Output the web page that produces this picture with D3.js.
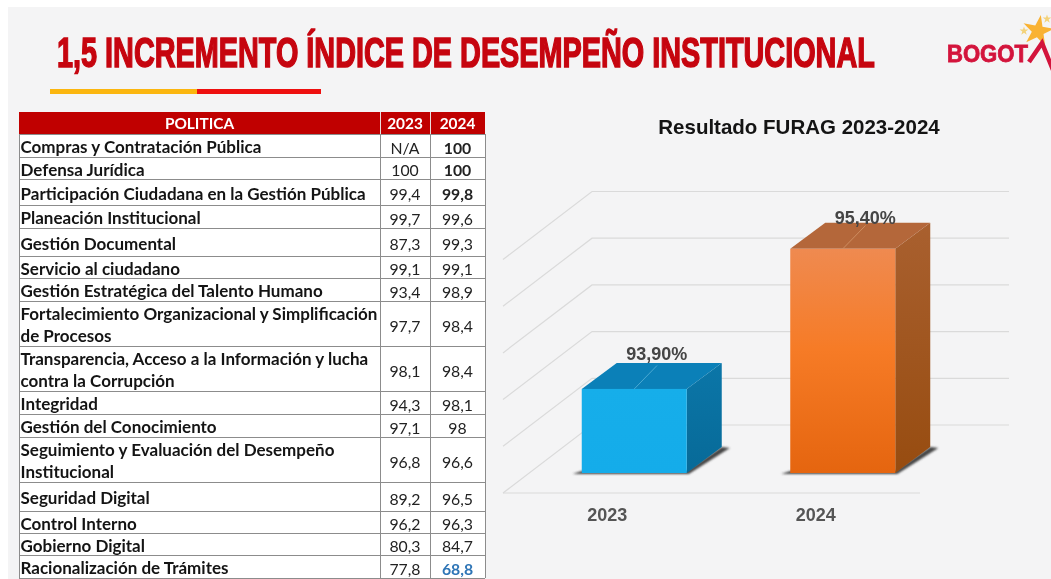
<!DOCTYPE html>
<html>
<head>
<meta charset="utf-8">
<script src="https://cdn.jsdelivr.net/npm/d3@7"></script>
<style>
  html, body { margin: 0; padding: 0; background: #fff; overflow: hidden; }
  svg { display: block; filter: blur(0.4px); }
</style>
</head>
<body>
<div id="chart"></div>
<script>
// table data
const policies = [
  "Compras y Contratación Pública",
  "Defensa Jurídica",
  "Participación Ciudadana en la Gestión Pública",
  "Planeación Institucional",
  "Gestión Documental",
  "Servicio al ciudadano",
  "Gestión Estratégica del Talento Humano",
  "Fortalecimiento Organizacional y Simplificación\nde Procesos",
  "Transparencia, Acceso a la Información y lucha\ncontra la Corrupción",
  "Integridad",
  "Gestión del Conocimiento",
  "Seguimiento y Evaluación del Desempeño\nInstitucional",
  "Seguridad Digital",
  "Control Interno",
  "Gobierno Digital",
  "Racionalización de Trámites",
];
const values2023 = [null, 100, 99.4, 99.7, 87.3, 99.1, 93.4, 97.7, 98.1, 94.3, 97.1, 96.8, 89.2, 96.2, 80.3, 77.8];
const values2024 = [100, 100, 99.8, 99.6, 99.3, 99.1, 98.9, 98.4, 98.4, 98.1, 98, 96.6, 96.5, 96.3, 84.7, 68.8];
const boldRows2024 = ["Compras y Contratación Pública", "Defensa Jurídica", "Participación Ciudadana en la Gestión Pública"];

// chart data
const furagYears = ["2023", "2024"];
const furagValues = [93.9, 95.4];

const width = 1051, height = 579;
const tableFont = "Lato, Carlito, 'Noto Sans', sans-serif";
const chartFont = "'Liberation Sans', Arial, sans-serif";

const svg = d3.select("#chart").append("svg").attr("width", width).attr("height", height);
const defs = svg.append("defs");

svg.append("rect").attr("x", 8).attr("y", 7).attr("width", width - 8).attr("height", height - 7).attr("fill", "#f4f4f5");

// squeeze a text horizontally so that it fills a given width
function fitWidth(sel, x, y, w) {
  const natural = sel.node().getComputedTextLength();
  sel.attr("transform", `translate(${x},${y}) scale(${w / natural},1)`);
}

// ---- header
svg.append("text")
  .attr("font-family", chartFont)
  .attr("font-weight", 700).attr("font-size", 42)
  .attr("fill", "#c6050f").attr("stroke", "#c6050f").attr("stroke-width", 1.5)
  .text("1,5 INCREMENTO ÍNDICE DE DESEMPEÑO INSTITUCIONAL")
  .call(fitWidth, 57, 67, 818);

svg.append("rect").attr("x", 50).attr("y", 89).attr("width", 147).attr("height", 5).attr("fill", "#fbb60f");
svg.append("rect").attr("x", 197).attr("y", 89).attr("width", 124).attr("height", 5).attr("fill", "#ee0f0f");

// logo
svg.append("path")
  .attr("d", d3.symbol().type(d3.symbolStar).size(300))
  .attr("transform", "translate(1038,31) rotate(10)")
  .attr("fill", "#f9b233");
[[1024, 31, 24], [1047, 19, 24]].forEach(([x, y, s]) => {
  svg.append("path").attr("d", d3.symbol().type(d3.symbolStar).size(s))
    .attr("transform", `translate(${x},${y})`).attr("fill", "#f3d27a");
});
svg.append("text")
  .attr("font-family", chartFont).attr("font-weight", 700).attr("font-size", 23.5)
  .attr("fill", "#d3143c").attr("stroke", "#d3143c").attr("stroke-width", 0.8)
  .text("BOGOT")
  .call(fitWidth, 947, 62, 81);
svg.append("path")
  .attr("d", d3.line()([[1029, 62], [1042, 43], [1053, 70]]))
  .attr("fill", "none").attr("stroke", "#d3143c").attr("stroke-width", 4.5);

// ---- table
const colEdges = [19, 380, 430, 485];
const headY = [112, 134];
const rowEdges = [134, 157, 179, 205, 228, 256, 278, 301, 346, 391, 414, 437, 482, 511, 533, 555, 578];
const fmt = v => v === null ? "N/A" : String(v).replace(".", ",");

const table = svg.append("g").attr("font-family", tableFont).attr("font-size", 15.8).attr("fill", "#222");

table.append("rect").attr("x", colEdges[0]).attr("y", rowEdges[0])
  .attr("width", colEdges[3] - colEdges[0]).attr("height", rowEdges[16] - rowEdges[0]).attr("fill", "#fff");
table.append("rect").attr("x", colEdges[0]).attr("y", headY[0])
  .attr("width", colEdges[3] - colEdges[0]).attr("height", headY[1] - headY[0]).attr("fill", "#c00000");

table.selectAll("line.row").data(rowEdges).join("line").attr("class", "row")
  .attr("x1", colEdges[0]).attr("x2", colEdges[3])
  .attr("y1", d => d + 0.5).attr("y2", d => d + 0.5)
  .attr("stroke", "#8c8c8c").attr("stroke-width", 1);
table.selectAll("line.col").data(colEdges).join("line").attr("class", "col")
  .attr("y1", rowEdges[0])
  .attr("y2", rowEdges[16])
  .attr("x1", d => d + 0.5).attr("x2", d => d + 0.5)
  .attr("stroke", "#8c8c8c").attr("stroke-width", 1);
table.selectAll("line.headcol").data(colEdges.slice(1, 3)).join("line").attr("class", "headcol")
  .attr("y1", headY[0]).attr("y2", headY[1])
  .attr("x1", d => d + 0.5).attr("x2", d => d + 0.5)
  .attr("stroke", "#e9dede");

const headers = ["POLITICA", "2023", "2024"];
table.selectAll("text.head").data(headers).join("text").attr("class", "head")
  .attr("x", (d, i) => (colEdges[i] + colEdges[i + 1]) / 2)
  .attr("y", 128.5)
  .attr("text-anchor", "middle").attr("font-weight", 700).attr("font-size", 15.4).attr("fill", "#fff")
  .text(d => d);

const rows = table.selectAll("g.tr").data(policies).join("g").attr("class", "tr");
rows.each(function (d, i) {
  const g = d3.select(this);
  const mid = (rowEdges[i] + rowEdges[i + 1]) / 2;
  const lines = d.split("\n");
  lines.forEach((line, k) => {
    g.append("text")
      .attr("x", 20.5)
      .attr("y", mid + 7.5 + (k - (lines.length - 1) / 2) * 22)
      .attr("font-weight", 700).attr("font-size", 17).attr("fill", "#141414")
      .text(line);
  });
  g.append("text")
    .attr("x", (colEdges[1] + colEdges[2]) / 2).attr("y", mid + 8)
    .attr("text-anchor", "middle")
    .text(fmt(values2023[i]));
  const last = i === policies.length - 1;
  g.append("text")
    .attr("x", (colEdges[2] + colEdges[3]) / 2).attr("y", mid + 8)
    .attr("text-anchor", "middle")
    .attr("font-weight", last || boldRows2024.includes(d) ? 700 : 400)
    .attr("fill", last ? "#2e75b6" : "#222")
    .text(fmt(values2024[i]));
});

// ---- 3d column chart
svg.append("text")
  .attr("x", 799).attr("y", 134)
  .attr("text-anchor", "middle")
  .attr("font-family", chartFont).attr("font-weight", 700).attr("font-size", 20.5)
  .attr("fill", "#141414")
  .text("Resultado FURAG 2023-2024");

const floorLeft = 503, floorRight = 920;
const frontBase = 473;
const x = d3.scaleBand().domain(furagYears).range([floorLeft, floorRight]);
const y = d3.scaleLinear().domain([93, 95.5]).range([frontBase, frontBase - 233.5]);

// depth of the plot box and of the columns
const wallDx = 89, wallDy = 68, wallShift = 48, floorDrop = 20;
const barDx = 35, barDy = 26, barW = 105, barShift = 27;

const grid = svg.append("g").attr("fill", "none").attr("stroke", "#dadada").attr("stroke-width", 1.2);
y.ticks(5).forEach(t => {
  const yBack = y(t) - wallShift;
  grid.append("path").attr("d", d3.line()([
    [floorLeft, yBack + wallDy],
    [floorLeft + wallDx, yBack],
    [floorRight + wallDx, yBack],
  ]));
});
grid.append("line")
  .attr("x1", floorLeft).attr("x2", floorRight)
  .attr("y1", frontBase + floorDrop).attr("y2", frontBase + floorDrop);

function addGradient(id, stops) {
  const g = defs.append("linearGradient").attr("id", id).attr("x1", 0).attr("x2", 0).attr("y1", 0).attr("y2", 1);
  stops.forEach(([o, c]) => g.append("stop").attr("offset", o).attr("stop-color", c));
}
addGradient("blueFront", [[0, "#16aeea"], [1, "#14acea"]]);
addGradient("blueSide", [[0, "#0b76a8"], [1, "#076a98"]]);
addGradient("orangeFront", [[0, "#ef8a50"], [0.45, "#f67b26"], [1, "#e5650f"]]);
addGradient("orangeSide", [[0, "#a9602f"], [1, "#974c10"]]);

defs.append("filter").attr("id", "soft").append("feGaussianBlur").attr("stdDeviation", 0.9);

const barColors = [
  { front: "url(#blueFront)", side: "url(#blueSide)", top: "#0b80b8", seam: "#5bb2d8", labelGap: 29 },
  { front: "url(#orangeFront)", side: "url(#orangeSide)", top: "#b4673a", seam: "#d39668", labelGap: 25 },
];
const poly = d3.line().curve(d3.curveLinearClosed);

const bars = svg.selectAll("g.bar")
  .data(furagYears.map((year, i) => ({ year, value: furagValues[i], colors: barColors[i] })))
  .join("g").attr("class", "bar");

bars.each(function (d) {
  const g = d3.select(this);
  const x0 = x(d.year) + x.bandwidth() / 2 + barShift - barW / 2;
  const x1 = x0 + barW;
  const yTop = y(d.value);

  // base shadow
  g.append("path")
    .attr("d", poly([[x0 - 9, frontBase + 1], [x1 + 2, frontBase + 1], [x1 + barDx + 8, frontBase - barDy + 1], [x1 + barDx, frontBase - barDy], [x1, frontBase - 2], [x0, frontBase - 2]]))
    .attr("fill", "#444").attr("filter", "url(#soft)");

  g.append("path")
    .attr("d", poly([[x1, yTop], [x1 + barDx, yTop - barDy], [x1 + barDx, frontBase - barDy], [x1, frontBase]]))
    .attr("fill", d.colors.side);
  g.append("path")
    .attr("d", poly([[x0, yTop], [x1, yTop], [x1 + barDx, yTop - barDy], [x0 + barDx, yTop - barDy]]))
    .attr("fill", d.colors.top);
  g.append("line")
    .attr("x1", (x0 + x1) / 2).attr("y1", yTop)
    .attr("x2", (x0 + x1) / 2 + barDx * 0.65).attr("y2", yTop - barDy * 0.9)
    .attr("stroke", d.colors.seam).attr("stroke-width", 0.8);
  g.append("rect")
    .attr("x", x0).attr("y", yTop).attr("width", barW).attr("height", frontBase - yTop)
    .attr("fill", d.colors.front);

  g.append("text")
    .attr("x", (x0 + x1) / 2 + 22.5).attr("y", yTop - d.colors.labelGap)
    .attr("text-anchor", "middle")
    .attr("font-family", chartFont).attr("font-weight", 700).attr("font-size", 18)
    .attr("fill", "#454545")
    .text(d3.format(".2f")(d.value).replace(".", ",") + "%");
});

const xAxis = svg.append("g")
  .attr("transform", `translate(0,${frontBase + floorDrop})`)
  .call(d3.axisBottom(x).tickSize(0).tickPadding(15));
xAxis.select(".domain").remove();
xAxis.selectAll("text")
  .attr("font-family", chartFont).attr("font-weight", 700).attr("font-size", 18)
  .attr("fill", "#555");
</script>
</body>
</html>
